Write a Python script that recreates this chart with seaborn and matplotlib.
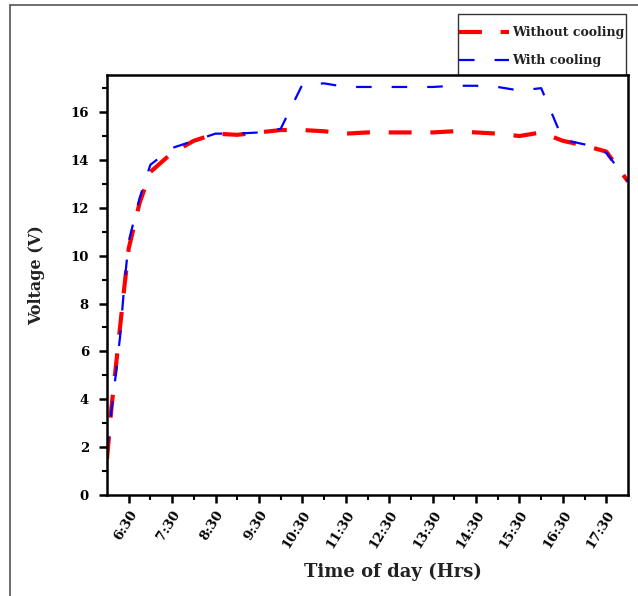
import matplotlib
matplotlib.use("Agg")
import numpy as np
import pandas as pd
import seaborn as sns
import matplotlib.pyplot as plt
from matplotlib.lines import Line2D
from matplotlib.patches import Rectangle
from matplotlib.ticker import MultipleLocator, FixedLocator

# %% data (time in decimal hours) ____________________________________________
hours_without = [6.0, 6.1, 6.2, 6.3, 6.4, 6.5, 6.75, 7.0, 7.5, 8.0, 8.5, 9.0, 9.5, 10.0,
                 10.5, 11.0, 11.5, 12.0, 12.5, 13.0, 13.5, 14.0, 14.5, 15.0, 15.5, 16.0,
                 16.5, 17.0, 17.5, 18.0]
volt_without = [1.5, 3.6, 5.3, 7.0, 8.7, 10.3, 12.2, 13.5, 14.3, 14.8, 15.1, 15.05, 15.15, 15.25,
                15.25, 15.2, 15.1, 15.15, 15.15, 15.15, 15.15, 15.2, 15.15, 15.1, 15.0, 15.15,
                14.8, 14.6, 14.35, 13.1]

hours_with = [6.0, 6.1, 6.2, 6.3, 6.4, 6.5, 6.75, 7.0, 7.5, 8.0, 8.5, 9.0, 9.5, 10.0,
              10.5, 11.0, 11.5, 12.0, 12.5, 13.0, 13.5, 14.0, 14.5, 15.0, 15.5, 16.0,
              16.5, 17.0, 17.5, 18.0]
volt_with = [1.8, 3.5, 5.0, 6.6, 8.8, 10.6, 12.4, 13.8, 14.5, 14.8, 15.1, 15.1, 15.15, 15.3,
             17.15, 17.2, 17.05, 17.05, 17.05, 17.05, 17.05, 17.1, 17.1, 17.05, 16.9, 17.0,
             14.85, 14.65, 14.3, 13.1]

tick_hours = [6.5, 7.5, 8.5, 9.5, 10.5, 11.5, 12.5, 13.5, 14.5, 15.5, 16.5, 17.5]
tick_labels = ["6:30", "7:30", "8:30", "9:30", "10:30", "11:30", "12:30", "13:30",
               "14:30", "15:30", "16:30", "17:30"]

df_without = pd.DataFrame({"hour": hours_without, "voltage": volt_without})
df_with = pd.DataFrame({"hour": hours_with, "voltage": volt_with})

# %% plot _____________________________________________________________________
sns.set_theme(style="white")
plt.rcParams["font.family"] = ["DejaVu Serif"]
plt.rcParams["font.weight"] = "bold"

fig = plt.figure(figsize=(6.38, 5.96), dpi=100)
ax = fig.add_axes([107 / 638, 1 - 495 / 596, 521 / 638, 420 / 596])

red_ls = (0, (5.5, 4.5))
blue_ls = (0, (7.0, 9.0))
sns.lineplot(data=df_without, x="hour", y="voltage", ax=ax, color="#ff0000",
             lw=3.0, linestyle=red_ls, estimator=None, sort=False)
sns.lineplot(data=df_with, x="hour", y="voltage", ax=ax, color="#0000ff",
             lw=1.6, linestyle=blue_ls, estimator=None, sort=False)

ax.set_xlim(6.0, 18.0)
ax.set_ylim(0, 17.55)
ax.xaxis.set_major_locator(FixedLocator(tick_hours))
ax.xaxis.set_minor_locator(FixedLocator([7, 8, 9, 10, 11, 12, 13, 14, 15, 16, 17]))
ax.set_xticklabels(tick_labels, rotation=58, ha="right", rotation_mode="anchor",
                   fontsize=9.5, fontweight="bold")
ax.yaxis.set_major_locator(MultipleLocator(2))
ax.yaxis.set_minor_locator(MultipleLocator(1))
for lab in ax.get_yticklabels():
    lab.set_fontsize(9.5)
    lab.set_fontweight("bold")
    lab.set_color("#222222")

ax.tick_params(which="major", direction="out", length=6, width=1.8, colors="black",
               bottom=True, left=True)
ax.tick_params(axis="y", which="major", pad=7)
ax.tick_params(which="minor", direction="out", length=3.5, width=1.5, colors="black",
               bottom=True, left=True)
for sp in ax.spines.values():
    sp.set_color("black")
    sp.set_linewidth(1.8)

ax.set_xlabel("Time of day (Hrs)", fontsize=13, fontweight="bold", labelpad=9,
              color="#222222")
ax.xaxis.label.set_x(0.548)
ax.set_ylabel("Voltage (V)", fontsize=11.5, fontweight="bold", labelpad=18,
              color="#222222")
ax.yaxis.label.set_y(0.524)

handles = [Line2D([], [], color="#ff0000", lw=3.0, linestyle=red_ls),
           Line2D([], [], color="#0000ff", lw=1.6, linestyle=blue_ls)]
leg = fig.legend(handles, ["Without cooling", "With cooling"], loc="upper left",
                 bbox_to_anchor=(459 / 638, 1 - 26 / 596), frameon=False,
                 fontsize=9, handlelength=4.0, handletextpad=0.25, labelspacing=1.2,
                 borderpad=0, borderaxespad=0)
for t in leg.get_texts():
    t.set_fontweight("bold")
    t.set_color("#222222")

# legend box, bottom edge hidden by the axes top
fig.add_artist(Rectangle((458 / 638, 1 - 75 / 596), 168 / 638, 61 / 596,
                         transform=fig.transFigure, fill=False, edgecolor="#333333",
                         lw=1.0, zorder=0))

# outer frame (top and left edges)
fig.add_artist(Line2D([10 / 638, 1.0], [1 - 5 / 596, 1 - 5 / 596], color="#555555", lw=1.2))
fig.add_artist(Line2D([10 / 638, 10 / 638], [0.0, 1 - 5 / 596], color="#555555", lw=1.2))

fig.savefig("out.png", dpi=100)
